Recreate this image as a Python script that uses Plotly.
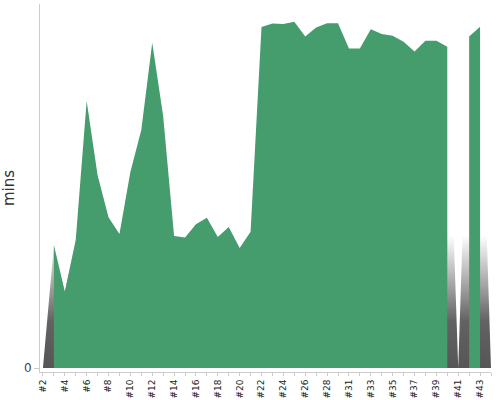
import plotly.graph_objects as go

# sprint labels (one is missing between #28 and #31)
sprints = ["#2", "#3", "#4", "#5", "#6", "#7", "#8", "#9", "#10", "#11",
           "#12", "#13", "#14", "#15", "#16", "#17", "#18", "#19", "#20", "#21",
           "#22", "#23", "#24", "#25", "#26", "#27", "#28", "#30", "#31", "#32",
           "#33", "#34", "#35", "#36", "#37", "#38", "#39", "#40", "#41", "#42",
           "#43", "#44"]

mins = [0, 35.1, 21.7, 36.6, 76.3, 55.1, 43.1, 38.3, 56.0, 68.0,
        92.9, 72.0, 37.7, 37.3, 41.1, 42.9, 37.4, 40.3, 34.3, 38.9,
        97.4, 98.4, 98.3, 98.9, 94.7, 97.3, 98.5, 98.5, 91.3, 91.3,
        96.8, 95.4, 94.9, 93.2, 90.4, 93.5, 93.5, 91.8, 0, 94.7,
        97.5, 0]

tick_text = [s if i % 2 == 0 else "" for i, s in enumerate(sprints)]

COLORS = {
    "green": "#459c6c",
    "axis": "#cccccc",
    "text": "#444444",
    "title": "#333333",
}

fig = go.Figure()

# shaded underlay, only visible where the series drops to zero
fig.add_trace(go.Scatter(
    x=sprints, y=mins,
    mode="lines",
    line=dict(width=0),
    fill="tozeroy",
    fillgradient=dict(
        type="vertical",
        start=0, stop=38,
        colorscale=[[0, "rgb(86,86,86)"], [0.35, "rgb(98,98,98)"],
                    [1, "rgb(255,255,255)"]],
    ),
    hoverinfo="skip",
    showlegend=False,
))

# main area: one trace per run of non-zero values (plotly fills across gaps)
runs, cur = [], []
for s, v in zip(sprints, mins):
    if v > 0:
        cur.append((s, v))
    elif cur:
        runs.append(cur)
        cur = []
if cur:
    runs.append(cur)

for run in runs:
    fig.add_trace(go.Scatter(
        x=[p[0] for p in run], y=[p[1] for p in run],
        mode="lines",
        line=dict(width=0, color=COLORS["green"]),
        fill="tozeroy",
        fillcolor=COLORS["green"],
        name="mins",
        showlegend=False,
    ))

fig.update_layout(
    width=500, height=400,
    paper_bgcolor="white",
    plot_bgcolor="white",
    margin=dict(l=40, r=9, t=4, b=28),
    font=dict(family="DejaVu Sans", color=COLORS["text"]),
    showlegend=False,
)

fig.update_xaxes(
    type="category",
    categoryorder="array",
    categoryarray=sprints,
    range=[-0.27, len(sprints) - 1],
    tickmode="array",
    tickvals=sprints,
    ticktext=tick_text,
    tickangle=-90,
    tickfont=dict(size=9, color="#222222"),
    showline=True, linecolor=COLORS["axis"], linewidth=1,
    ticks="outside", ticklen=3, tickcolor=COLORS["axis"],
    showgrid=False, zeroline=False,
    automargin=False,
)

fig.update_yaxes(
    range=[-1.143, 104],
    tickvals=[0],
    ticktext=["0"],
    tickfont=dict(size=12, color=COLORS["text"]),
    showline=True, linecolor=COLORS["axis"], linewidth=1,
    ticks="outside", ticklen=5, tickcolor=COLORS["axis"],
    showgrid=False, zeroline=False,
    automargin=False,
    title=dict(text="mins", font=dict(size=15, color=COLORS["title"])),
)

# the page's default body margin would shift the fixed-size figure
fig.write_html("out.html", config={"displayModeBar": False},
               post_script="document.body.style.margin='0';")
